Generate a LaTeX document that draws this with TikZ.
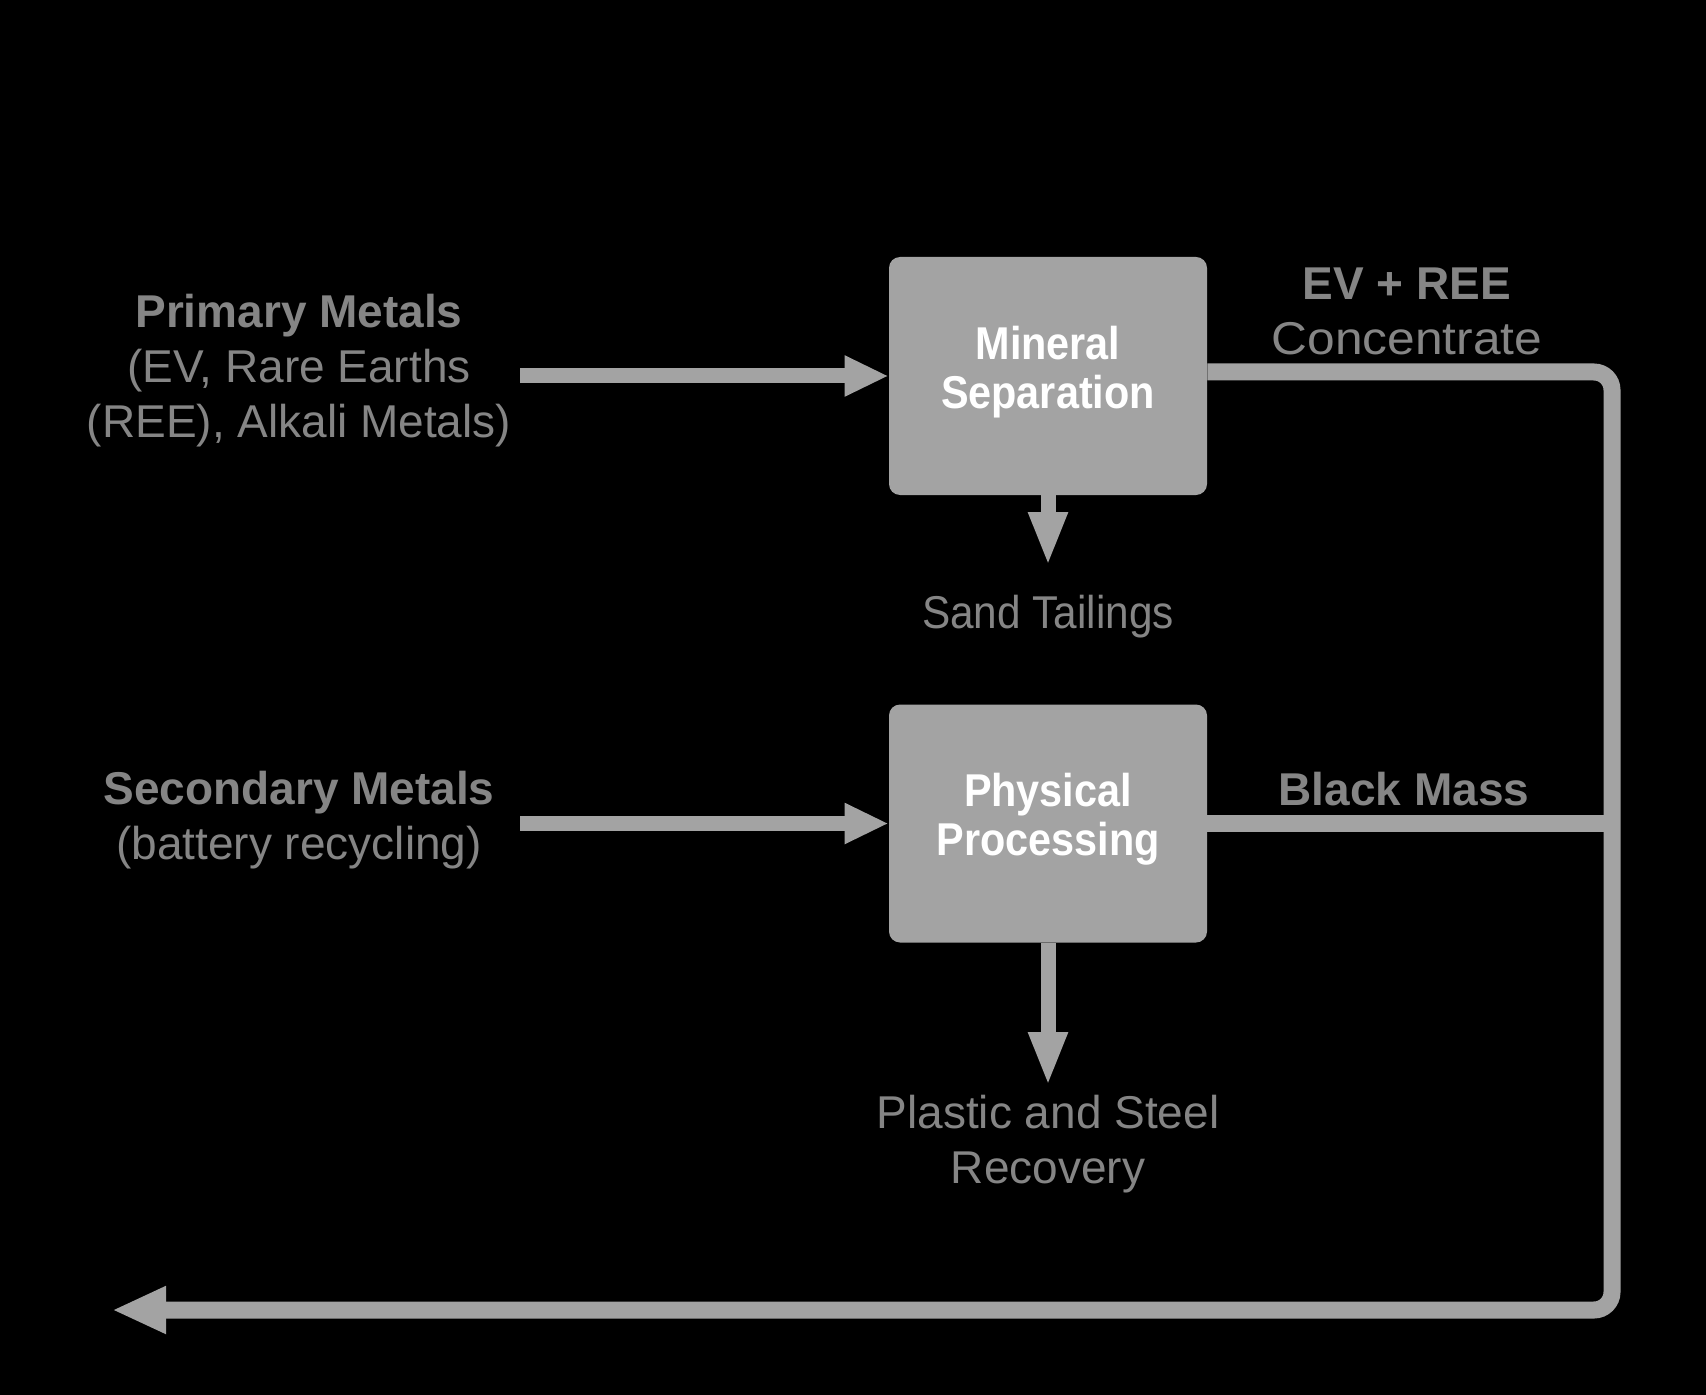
\documentclass[tikz,border=0pt]{standalone}
\usepackage{fontspec}
\setmainfont{Liberation Sans}
\newfontfamily\boxfont[FakeStretch=0.9]{Liberation Sans}
\newfontfamily\narrowfont[FakeStretch=0.92]{Liberation Sans}
\newfontfamily\widefont[FakeStretch=1.08]{Liberation Sans}
\usetikzlibrary{arrows.meta}
\definecolor{linegray}{HTML}{A3A3A3}
\definecolor{txtgray}{HTML}{858585}
\begin{document}
\begin{tikzpicture}[x=0.5pt,y=-0.5pt,
  procbox/.style={draw=none, fill=linegray, rounded corners=5.5pt, minimum width=159pt, minimum height=119pt, inner sep=0pt},
  boxtext/.style={text=white, font=\boxfont\bfseries\fontsize{23}{24.5}\selectfont, align=center, inner sep=0pt},
  lbl/.style={text=txtgray, font=\fontsize{23}{27.5}\selectfont, align=center, inner sep=0pt},
  flow/.style={draw=linegray, line width=8.5pt},
  inflow/.style={draw=linegray, line width=7.5pt, -{Triangle[length=22pt,width=19pt]}},
  downflow/.style={draw=linegray, line width=7.5pt, -{Triangle[length=27pt,width=18pt]}},
]
\path[fill=black] (0,0) rectangle (1706,1395);

% process boxes
\node[procbox] (ms) at (1048,376) {};
\node[boxtext] (mst) at ([yshift=2pt]ms.center) {Mineral\\Separation};
\node[procbox] (pp) at (1048,823.5) {};
\node[boxtext] (ppt) at ([yshift=2pt]pp.center) {Physical\\Processing};

% input labels
\node[lbl] (prim) at (299,371) {\textbf{Primary Metals}\\(EV, Rare Earths\\(REE), Alkali Metals)};
\node[lbl] (sec) at (299,820) {\textbf{Secondary Metals}\\(battery recycling)};

% input arrows
\coordinate (pin) at (520,376);
\coordinate (sin) at (520,823.5);
\draw[inflow] (pin) -- (ms.west);
\draw[inflow] (sin) -- (pp.west);

% down arrows and labels
\coordinate (sandtip) at (1048,566);
\coordinate (plastip) at (1048,1086);
\draw[downflow] (ms.south) -- (sandtip);
\draw[downflow] (pp.south) -- (plastip);
\node[lbl, font=\narrowfont\fontsize{23}{27.5}\selectfont] (sand) at (1048,617) {Sand Tailings};
\node[lbl] (plas) at (1048,1144) {Plastic and Steel\\Recovery};

% output lines
\coordinate (c1) at (1612,372);
\coordinate (c2) at (1612,1310);
\coordinate (outtip) at (112,1310);
\draw[flow, rounded corners=9pt, -{Triangle[length=27pt,width=22pt]}] (ms.east |- c1) -- (c1) -- (c2) -- (outtip);
\draw[flow] (pp.east) -- (pp.east -| c1);

% output labels
\node[lbl] (evree) at (1407,311) {\textbf{EV + REE}\\{\widefont Concentrate}};
\node[lbl] (bm) at (1404,789) {\textbf{Black Mass}};
\end{tikzpicture}
\end{document}
